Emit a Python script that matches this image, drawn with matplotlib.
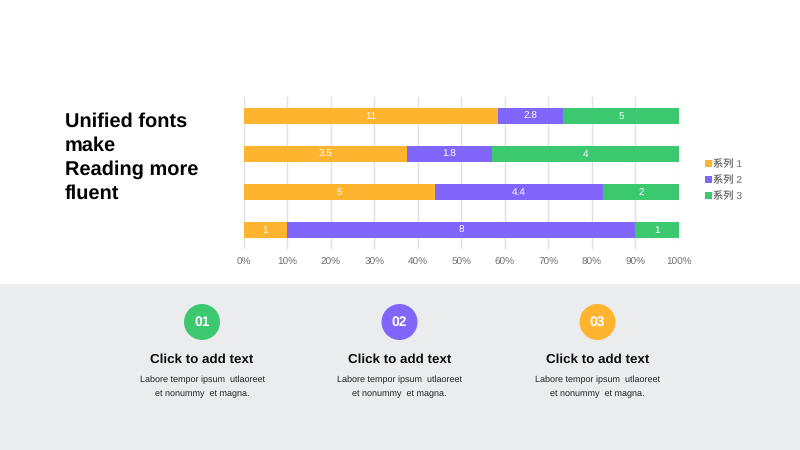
import numpy as np
import matplotlib
matplotlib.use("Agg")
import matplotlib.pyplot as plt
from matplotlib.patches import Circle, Rectangle

plt.rcParams['font.family'] = ['Liberation Sans', 'Noto Sans CJK SC', 'DejaVu Sans']
plt.rcParams['text.hinting'] = 'no_hinting'
plt.rcParams['text.kerning_factor'] = 6

categories = ['类别 1', '类别 2', '类别 3', '类别 4']
series_names = ['系列 1', '系列 2', '系列 3']
series1 = [1, 5, 3.5, 11]
series2 = [8, 4.4, 1.8, 2.8]
series3 = [1, 2, 4, 5]
colors = ['#FFB42F', '#8066FA', '#3CC86E']
title_lines = ['Unified fonts', 'make', 'Reading more', 'fluent']
item_numbers = ['01', '02', '03']
item_colors = ['#3CC86E', '#8066FA', '#FFB42F']
item_centers = [202, 399.5, 597.5]
item_head = 'Click to add text'
item_body = ['Labore tempor ipsum  utlaoreet', 'et nonummy  et magna.']

W, H = 800, 450
fig = plt.figure(figsize=(8, 4.5), dpi=100, facecolor='white')

# page-level decoration in pixel coordinates
bg = fig.add_axes([0, 0, 1, 1], zorder=0)
bg.set_xlim(0, W)
bg.set_ylim(H, 0)
bg.axis('off')
bg.add_patch(Rectangle((0, 284), W, H - 284, fc='#EBECEE', ec='none'))

for i, line in enumerate(title_lines):
    bg.text(65, 121.5 + i * 24.1, line, fontsize=14.4, fontweight='bold',
            color='black', ha='left', va='center')

for num, col, cx in zip(item_numbers, item_colors, item_centers):
    bg.add_patch(Circle((cx, 322), 18, fc=col, ec='none'))
    bg.text(cx, 322.5, num, fontsize=10, fontweight='bold', color='white',
            ha='center', va='center')
    bg.text(cx, 360, item_head, fontsize=9.6, fontweight='bold', color='#0D0D0D',
            ha='center', va='center')
    bg.text(cx, 380, item_body[0], fontsize=6.5, color='#222222', ha='center', va='center')
    bg.text(cx, 394, item_body[1], fontsize=6.5, color='#222222', ha='center', va='center')

# chart
left, right, top, bottom = 243.5, 679, 97, 249
ax = fig.add_axes([left / W, 1 - bottom / H, (right - left) / W, (bottom - top) / H], zorder=1)
ax.patch.set_alpha(0)

data = np.array([series1, series2, series3], dtype=float)
totals = data.sum(axis=0)
y = np.arange(len(categories))
base = np.zeros(len(categories))
for name, vals, col in zip(series_names, data, colors):
    share = vals / totals
    ax.barh(y, share, left=base, height=0.395, color=col, label=name, zorder=3)
    for yi, b, s, v in zip(y, base, share, vals):
        ax.text(b + s / 2, yi, f'{v:g}', color='white', fontsize=7.2,
                ha='center', va='center', zorder=4)
    base += share

ax.set_xlim(0, 1)
ax.set_ylim(-0.5, 3.5)
ax.set_xticks(np.arange(0, 1.01, 0.1))
ax.set_xticklabels([f'{p}%' for p in range(0, 101, 10)], fontsize=7.2, color='#6E6E6E')
ax.set_yticks([])
ax.grid(axis='x', color='#E0E0E0', linewidth=1, zorder=0)
ax.tick_params(axis='x', length=0, pad=6)
for s in ax.spines.values():
    s.set_visible(False)

handles, labels = ax.get_legend_handles_labels()
leg = ax.legend(handles, labels, loc='center left', bbox_to_anchor=(1.06, 0.452),
                frameon=False, fontsize=7.4, labelcolor='#6E6E6E', handlelength=0.62,
                handleheight=0.62, handletextpad=0.1, labelspacing=0.58,
                borderpad=0, borderaxespad=0)

fig.savefig('out.png', dpi=100)
